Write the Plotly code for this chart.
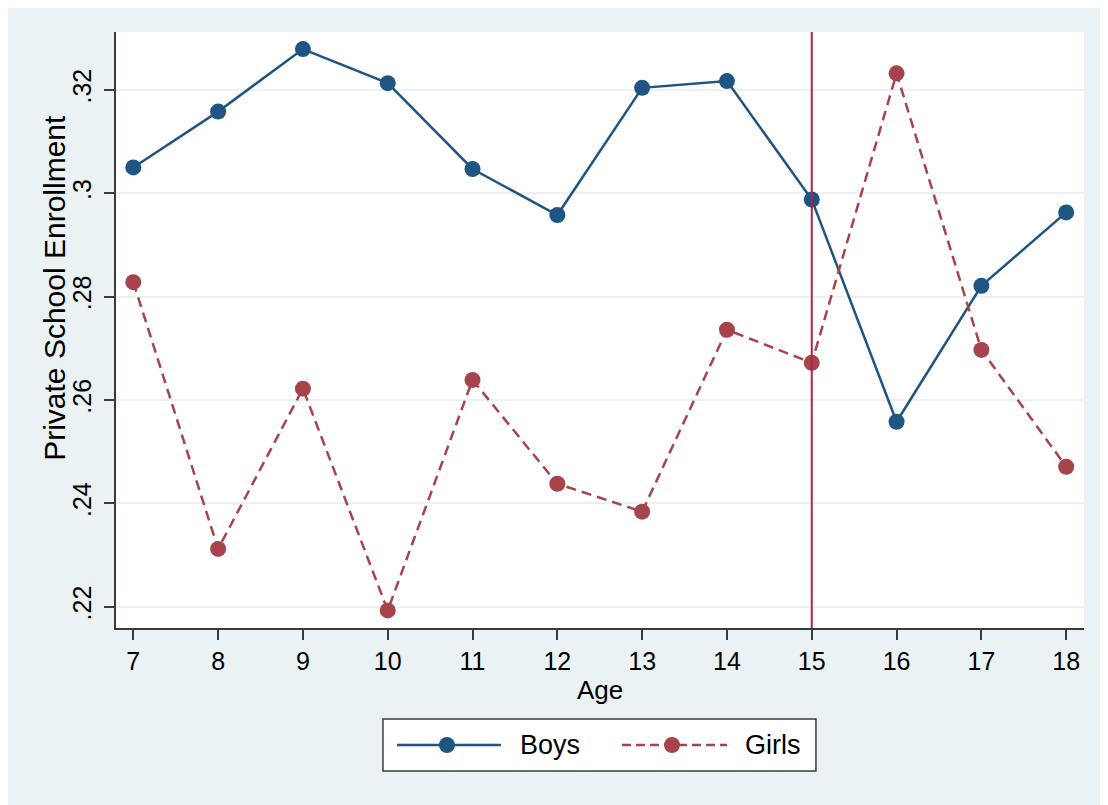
import plotly.graph_objects as go

# ---- data ----
ages = [7, 8, 9, 10, 11, 12, 13, 14, 15, 16, 17, 18]
boys = [0.3050, 0.3158, 0.3279, 0.3213, 0.3047, 0.2958, 0.3204, 0.3217, 0.2988, 0.2558, 0.2821, 0.2963]
girls = [0.2828, 0.2312, 0.2622, 0.2193, 0.2639, 0.2438, 0.2384, 0.2736, 0.2672, 0.3232, 0.2697, 0.2471]
cutoff_age = 15
y_tick_vals = [0.22, 0.24, 0.26, 0.28, 0.30, 0.32]
y_tick_text = [".22", ".24", ".26", ".28", ".3", ".32"]
x_tick_vals = ages
series_names = ["Boys", "Girls"]

# ---- styles ----
FONT = "Liberation Sans, Arial, Helvetica, sans-serif"
BG = "#EAF2F3"
BLUE = "#1F5582"
RED = "#A7444B"
VLINE = "#B02346"
AXIS = "#3a3a3a"

fig = go.Figure()
fig.add_trace(go.Scatter(
    x=ages, y=boys, mode="lines+markers", name=series_names[0],
    line=dict(color=BLUE, width=2.5),
    marker=dict(color=BLUE, size=16),
    showlegend=False,
))
fig.add_trace(go.Scatter(
    x=ages, y=girls, mode="lines+markers", name=series_names[1],
    line=dict(color=RED, width=2.5, dash="10px,6px"),
    marker=dict(color=RED, size=16),
    showlegend=False,
))

fig.add_shape(type="line", xref="x", yref="paper", x0=cutoff_age, x1=cutoff_age,
              y0=0, y1=1, line=dict(color=VLINE, width=2), layer="above")

fig.update_layout(
    width=1100, height=797,
    paper_bgcolor=BG, plot_bgcolor="white",
    margin=dict(l=108, r=24, t=24, b=177),
    font=dict(family=FONT, color="black"),
    xaxis=dict(
        range=[6.796, 18.21], tickvals=x_tick_vals,
        showgrid=False, zeroline=False,
        showline=True, linecolor=AXIS, linewidth=2,
        ticks="outside", ticklen=10, tickwidth=1.5, tickcolor=AXIS,
        tickfont=dict(size=25, family=FONT, color="black"),
    ),
    yaxis=dict(
        range=[0.2159, 0.3312], tickvals=y_tick_vals, ticktext=y_tick_text,
        showgrid=True, gridcolor="#EEF1F1", gridwidth=1.5, zeroline=False,
        showline=True, linecolor=AXIS, linewidth=2,
        ticks="outside", ticklen=10, tickwidth=1.5, tickcolor=AXIS,
        tickangle=-90, ticklabelstandoff=3,
        tickfont=dict(size=25, family=FONT, color="black"),
    ),
)

# axis titles
fig.add_annotation(text="Age", xref="paper", yref="paper", x=0.4995, y=-0.104,
                   xanchor="center", yanchor="middle", showarrow=False,
                   font=dict(size=26, family=FONT, color="black"))
fig.add_annotation(text="Private School Enrollment", xref="paper", yref="paper",
                   x=-0.0635, y=0.570, textangle=-90,
                   xanchor="center", yanchor="middle", showarrow=False,
                   font=dict(size=30, family=FONT, color="black"))

# legend box (Stata style)
fig.add_shape(type="rect", xref="paper", yref="paper",
              x0=0.2758, x1=0.7231, y0=-0.2399, y1=-0.1527,
              fillcolor="white", line=dict(color=AXIS, width=1.5))
ly = -0.1963
legend_items = [
    (series_names[0], BLUE, "solid", 0.2903, 0.3977, 0.3419, 0.4153),
    (series_names[1], RED, "dash", 0.5227, 0.6312, 0.5744, 0.6477),
]
for name, col, dash, lx0, lx1, mx, tx in legend_items:
    fig.add_shape(type="line", xref="paper", yref="paper", x0=lx0, x1=lx1, y0=ly, y1=ly,
                  line=dict(color=col, width=2.5, dash="9px,5px" if dash == "dash" else "solid"))
    fig.add_shape(type="circle", xref="paper", yref="paper",
                  xsizemode="pixel", ysizemode="pixel", xanchor=mx, yanchor=ly,
                  x0=-8, x1=8, y0=-8, y1=8,
                  fillcolor=col, line=dict(color=col, width=0))
    fig.add_annotation(text=name, xref="paper", yref="paper", x=tx, y=ly,
                       xanchor="left", yanchor="middle", showarrow=False,
                       font=dict(size=27, family=FONT, color="black"))

fig.write_html("out.html")
